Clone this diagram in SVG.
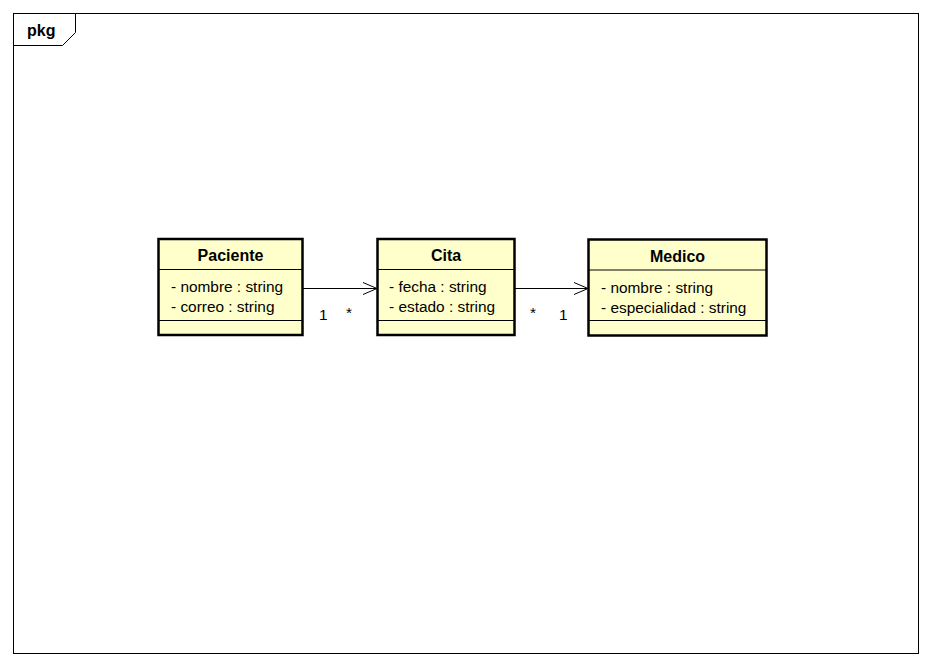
<svg xmlns="http://www.w3.org/2000/svg" width="932" height="666" viewBox="0 0 932 666">
  <defs>
    <style>
      .frame { fill: none; stroke: #000; stroke-width: 1; }
      .cls { fill: #FFFFCC; stroke: #000; stroke-width: 2.5; }
      .sep { stroke: #000; stroke-width: 1; }
      .name { font-family: "Liberation Sans", Arial, sans-serif; font-size: 16px; font-weight: bold; text-anchor: middle; fill: #000; }
      .attr { font-family: "Liberation Sans", Arial, sans-serif; font-size: 15.4px; fill: #000; }
      .mult { font-family: "Liberation Sans", Arial, sans-serif; font-size: 15.4px; fill: #000; }
      .edge { fill: none; stroke: #000; stroke-width: 1; }
    </style>
    <marker id="open" markerWidth="16" markerHeight="14" refX="15" refY="7" orient="auto" markerUnits="userSpaceOnUse">
      <path d="M1,1 L15,7 L1,13" fill="none" stroke="#000" stroke-width="1"/>
    </marker>
  </defs>
  <rect width="932" height="666" fill="#fff"/>

  <!-- package frame -->
  <g id="pkg">
    <rect class="frame" x="13.5" y="13.5" width="905" height="640"/>
    <path class="frame" d="M13.5,45.5 L62.5,45.5 L75.5,32.5 L75.5,13.5"/>
    <text x="27" y="36" class="name" style="text-anchor:start">pkg</text>
  </g>

  <!-- associations -->
  <g id="connectors">
    <line class="edge" x1="303" y1="288.5" x2="377" y2="288.5" marker-end="url(#open)"/>
    <line class="edge" x1="515" y1="288.5" x2="588" y2="288.5" marker-end="url(#open)"/>
    <text class="mult" x="319" y="320">1</text>
    <text class="mult" x="346" y="318">*</text>
    <text class="mult" x="530" y="318">*</text>
    <text class="mult" x="559" y="320">1</text>
  </g>

  <g id="Paciente">
    <rect class="cls" x="158.5" y="239" width="144" height="96"/>
    <line class="sep" x1="158.5" y1="269.5" x2="302.5" y2="269.5"/>
    <line class="sep" x1="158.5" y1="320.5" x2="302.5" y2="320.5"/>
    <text class="name" x="230.5" y="261">Paciente</text>
    <text class="attr" x="171" y="292">- nombre : string</text>
    <text class="attr" x="171" y="312">- correo : string</text>
  </g>

  <g id="Cita">
    <rect class="cls" x="377.5" y="239" width="137" height="96"/>
    <line class="sep" x1="377.5" y1="269.5" x2="514.5" y2="269.5"/>
    <line class="sep" x1="377.5" y1="320.5" x2="514.5" y2="320.5"/>
    <text class="name" x="446" y="261">Cita</text>
    <text class="attr" x="389" y="292">- fecha : string</text>
    <text class="attr" x="389" y="312">- estado : string</text>
  </g>

  <g id="Medico">
    <rect class="cls" x="588.5" y="239.5" width="178" height="96"/>
    <line class="sep" x1="588.5" y1="270" x2="766.5" y2="270"/>
    <line class="sep" x1="588.5" y1="320.5" x2="766.5" y2="320.5"/>
    <text class="name" x="677.5" y="262">Medico</text>
    <text class="attr" x="601" y="293">- nombre : string</text>
    <text class="attr" x="601" y="313">- especialidad : string</text>
  </g>
</svg>
